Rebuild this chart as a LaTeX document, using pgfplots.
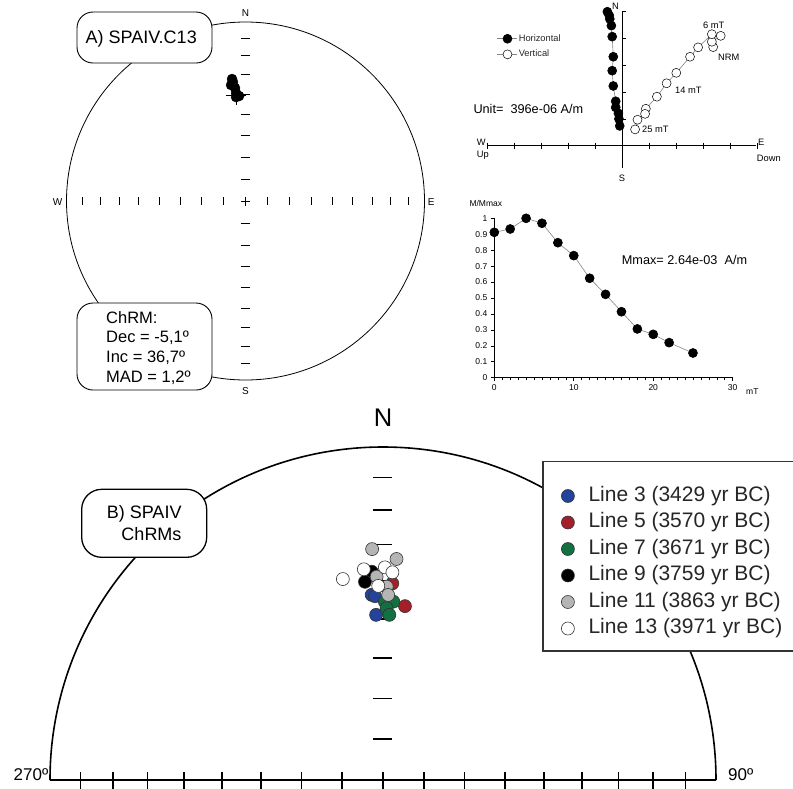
\documentclass[border=0pt]{standalone}
\usepackage{pgfplots}
\pgfplotsset{compat=1.18}
\usepackage{pgfplotstable}
\usepackage{fontspec}
\setmainfont{Liberation Sans}
\newcommand\fs[2]{\fontsize{#1pt}{#2pt}\selectfont}

\definecolor{lblue}{HTML}{24439A}
\definecolor{lred}{HTML}{A3202A}
\definecolor{lgreen}{HTML}{137040}
\definecolor{lgray}{HTML}{B5B5B5}
\definecolor{zline}{HTML}{858585}

% equal-area projection of (dec, inc)
\pgfplotsset{
  table/eqarea/.style={x expr={sqrt(2)*sin((90-\thisrow{inc})/2)*sin(\thisrow{dec})},
                       y expr={sqrt(2)*sin((90-\thisrow{inc})/2)*cos(\thisrow{dec})}},
  chrm/.style={only marks, mark=*, mark size=6.5pt,
               mark options={draw=black!80, line width=0.6pt, fill=#1}},
}

% A) demagnetisation steps of SPAIV.C13
\pgfplotstableread[row sep=\\]{dec inc\\ -6.3 32.0\\ -6.0 33.6\\ -7.1 35.0\\ -5.3 36.7\\ -5.0 39.3\\ -3.5 40.9\\ -5.2 41.3\\}\stepsA
\pgfplotstableread[row sep=\\]{dec inc\\ -5.1 40.3\\}\meanA
% Zijderveld, units of 396e-06 A/m (NRM, 2, 4, ... 22, 25 mT)
\pgfplotstableread[row sep=\\]{x y\\ -0.43 4.73\\ -0.37 4.48\\ -0.52 5.00\\ -0.45 4.86\\ -0.34 4.07\\ -0.30 3.32\\ -0.34 2.80\\ -0.30 2.23\\ -0.21 1.66\\ -0.21 1.43\\ -0.11 1.21\\ -0.09 1.00\\ -0.06 0.74\\}\zhor
\pgfplotstableread[row sep=\\]{x y\\ 3.41 3.68\\ 3.36 3.88\\ 3.69 4.10\\ 3.36 4.16\\ 2.85 3.67\\ 2.55 3.32\\ 2.04 2.72\\ 1.68 2.33\\ 1.32 1.83\\ 0.91 1.38\\ 0.88 1.19\\ 0.60 0.97\\ 0.51 0.61\\}\zver
% normalised intensity
\pgfplotstableread[row sep=\\]{mT M\\ 0 0.912\\ 2 0.933\\ 4 1.000\\ 6 0.969\\ 8 0.847\\ 10 0.766\\ 12 0.624\\ 14 0.523\\ 16 0.414\\ 18 0.306\\ 20 0.272\\ 22 0.220\\ 25 0.155\\}\intens
% B) ChRMs per line
\pgfplotstableread[row sep=\\]{dec inc\\ -3.5 43.6\\ -2.5 44.0\\ -2.4 48.9\\}\lineiii
\pgfplotstableread[row sep=\\]{dec inc\\ 2.7 40.6\\ 7.2 46.3\\}\linev
\pgfplotstableread[row sep=\\]{dec inc\\ 0.6 45.5\\ 3.3 45.4\\ 1.2 47.2\\ 2.2 48.9\\}\linevii
\pgfplotstableread[row sep=\\]{dec inc\\ -3.1 37.4\\ -5.2 40.0\\}\lineix
\pgfplotstableread[row sep=\\]{dec inc\\ -2.7 31.2\\ 3.5 33.9\\ -1.8 38.8\\ 1.1 41.5\\ 1.6 43.7\\}\linexi
\pgfplotstableread[row sep=\\]{dec inc\\ -11.3 38.4\\ -5.2 36.6\\ 0.5 36.3\\ 2.6 37.6\\ -1.4 41.3\\}\linexiii

\begin{document}
\begin{tikzpicture}[x=1pt, y=1pt]
\useasboundingbox (0,0) rectangle (793,-788);

\begin{scope}[yscale=-1]
  % ---- A: stereonet frame
  \draw[line width=0.8pt] (245.5,201) circle[radius=179];
  \foreach \k in {0.1233,0.2455,0.3660,0.4837,0.5977,0.7071,0.8112,0.9091}{
    \draw[line width=0.7pt] (245.5-179*\k,197.3) -- ++(0,7.4);
    \draw[line width=0.7pt] (245.5+179*\k,197.3) -- ++(0,7.4);
    \draw[line width=0.7pt] (240.8,201-179*\k) -- ++(9.4,0);
    \draw[line width=0.7pt] (240.8,201+179*\k) -- ++(9.4,0);
  }
  \draw[line width=0.7pt] (241,201) -- (250,201) (245.5,196.5) -- (245.5,205.5);
  \begin{scope}[every node/.style={font=\fs{10}{12}, inner sep=0}]
    \node[anchor=base] at (245.5,16.7) {N};
    \node[anchor=base] at (245.5,394.3) {S};
    \node[anchor=base] at (57.5,205.7) {W};
    \node[anchor=base] at (431.3,205.7) {E};
  \end{scope}
  \draw[fill=white, rounded corners=16pt, line width=0.9pt] (77,12) rectangle (212,63);
  \node[font=\fs{18}{21}, anchor=base west, inner sep=0] at (85.5,43.3) {A) SPAIV.C13};
  \draw[fill=white, rounded corners=16pt, line width=0.9pt] (77,303) rectangle (212,390);
  \begin{scope}[every node/.style={font=\fs{16.5}{19}, anchor=base west, inner sep=0}]
    \node at (106,323.3) {ChRM:};
    \node at (106,342.3) {Dec = -5,1º};
    \node at (106,362.7) {Inc = 36,7º};
    \node at (106,382.7) {MAD = 1,2º};
  \end{scope}

  % ---- Zijderveld frame
  \draw[line width=0.7pt] (486.7,145.7) -- (756,145.7);
  \draw[line width=0.7pt] (622.3,11.7) -- (622.3,168);
  \foreach \i in {-5,...,5} \draw[line width=0.7pt] (622.3+26.93*\i,142.7) -- ++(0,6);
  \foreach \i in {1,...,5} \draw[line width=0.7pt] (622.3,145.7-26.8*\i) -- ++(3.5,0);
  \begin{scope}[every node/.style={font=\fs{9.3}{11}, inner sep=0}]
    \node[anchor=base] at (615.5,9.3) {N};
    \node[anchor=base] at (622,181.7) {S};
    \node[anchor=base west] at (476.7,145) {W};
    \node[anchor=base west] at (476.7,157) {Up};
    \node[anchor=base west] at (758,145) {E};
    \node[anchor=base west] at (756.7,161.5) {Down};
    \node[anchor=base west] at (703,28.3) {6 mT};
    \node[anchor=base west] at (718,60.7) {NRM};
    \node[anchor=base west] at (675,93.4) {14 mT};
    \node[anchor=base west] at (642,132.6) {25 mT};
  \end{scope}
  \node[font=\fs{12.7}{15}, anchor=base west, inner sep=0] at (473.3,113.8) {Unit=\ \ 396e-06 A/m};

  % ---- intensity labels
  \node[font=\fs{8.5}{10}, anchor=base west, inner sep=0] at (469.3,206.5) {M/Mmax};
  \node[font=\fs{12.7}{15}, anchor=base west, inner sep=0] at (621.7,264.5) {Mmax= 2.64e-03\ \ A/m};
  \node[font=\fs{8.5}{10}, anchor=base west, inner sep=0] at (746,394.5) {mT};

  % ---- B: equal-area frame (upper half)
  \draw[line width=1.6pt] (50,780) arc[start angle=180, end angle=360, radius=333];
  \draw[line width=1.6pt] (50,780) -- (716,780);
  \foreach \k in {0.1233,0.2455,0.3660,0.4837,0.5977,0.7071,0.8112,0.9091}{
    \draw[line width=1.3pt] (383-333*\k,772) -- ++(0,20);
    \draw[line width=1.3pt] (383+333*\k,772) -- ++(0,20);
    \draw[line width=1.3pt] (373,780-333*\k) -- ++(19,0);
  }
  \draw[line width=1.3pt] (383,772) -- ++(0,20);
  \node[font=\fs{25.5}{30}, anchor=base, inner sep=0] at (383,426.7) {N};
  \node[font=\fs{17}{20}, anchor=base east, inner sep=0] at (48.5,780) {270º};
  \node[font=\fs{17}{20}, anchor=base west, inner sep=0] at (728,780) {90º};
  \draw[fill=white, line width=1.3pt, rounded corners=20pt] (81.7,489.3) rectangle (206.7,557.3);
  \node[font=\fs{18}{21}, anchor=base east, inner sep=0] at (181.7,518.3) {B) SPAIV};
  \node[font=\fs{18}{21}, anchor=base east, inner sep=0] at (181.7,540) {ChRMs};
  \draw[line width=1.5pt, draw=black!80, fill=white] (543,461.5) rectangle (800,651);
\end{scope}

% ---- A: data
\begin{axis}[scale only axis, width=358pt, height=358pt,
  at={(245.5pt,-201pt)}, anchor=center,
  xmin=-1, xmax=1, ymin=-1, ymax=1, hide axis, clip=false]
  \addplot[only marks, mark=+, mark size=10pt, mark options={line width=0.8pt}]
    table[eqarea] {\meanA};
  \addplot[only marks, mark=*, mark size=5pt, mark options={fill=black}]
    table[eqarea] {\stepsA};
\end{axis}

% ---- Zijderveld
\begin{axis}[scale only axis, width=269.3pt, height=156.3pt,
  at={(486.7pt,-168pt)}, anchor=south west,
  xmin=-5, xmax=5, ymin=-0.83, ymax=5, hide axis, clip=false,
  legend style={at={(0.0382,0.857)}, anchor=north west, draw=none, fill=none,
    inner sep=0pt, row sep=6.6pt, font=\fs{9.3}{11},
    nodes={inner sep=0pt, text height=7pt, text depth=2pt, text=black!85}},
  legend cell align=left,
  legend image code/.code={
    \path[draw=none] (0pt,0pt) -- (21.3pt,0pt);
    \draw[mark repeat=2, mark phase=2, #1] plot coordinates {(0pt,0pt) (10pt,0pt) (20pt,0pt)};}]
  \addplot[zline, line width=0.6pt, mark=*, mark size=4.5pt,
    mark options={draw=black, fill=black}] table {\zhor};
  \addlegendentry{Horizontal}
  \addplot[zline, line width=0.6pt, mark=*, mark size=4.5pt,
    mark options={draw=black, fill=white, line width=0.5pt}] table {\zver};
  \addlegendentry{Vertical}
\end{axis}

% ---- intensity decay
\begin{axis}[scale only axis, width=238.4pt, height=159.4pt,
  at={(494.3pt,-377.7pt)}, anchor=south west,
  xmin=0, xmax=30, ymin=0, ymax=1,
  axis lines=left, axis line style={-, line width=0.8pt},
  xtick={0,10,20,30}, ytick={0,0.1,0.2,0.3,0.4,0.5,0.6,0.7,0.8,0.9,1},
  minor x tick num=9,
  tick align=outside, major tick length=3.5pt, minor tick length=2pt,
  tick style={black, line width=0.6pt},
  ticklabel style={font=\fs{8.5}{10}},
  /pgf/number format/assume math mode=true,
  clip=false]
  \addplot[zline, line width=0.6pt, mark=*, mark size=4.5pt,
    mark options={draw=black, fill=black}] table {\intens};
\end{axis}

% ---- B: ChRMs
\begin{axis}[scale only axis, width=666pt, height=333pt,
  at={(50pt,-780pt)}, anchor=south west,
  xmin=-1, xmax=1, ymin=0, ymax=1, hide axis, clip=false,
  legend style={at={(0.7676,0.8835)}, anchor=north west, draw=none, fill=none,
    inner sep=0pt, row sep=6.5pt, font=\fs{21}{25},
    nodes={inner sep=0pt, text height=15pt, text depth=5pt, text=black!85}},
  legend cell align=left,
  legend image code/.code={
    \path[draw=none] (-6.5pt,0pt) -- (20.6pt,0pt);
    \draw[#1] plot coordinates {(0pt,0pt)};}]
  \addplot[chrm=lblue] table[eqarea] {\lineiii};
  \addlegendentry{Line 3 (3429 yr BC)}
  \addplot[chrm=lred] table[eqarea] {\linev};
  \addlegendentry{Line 5 (3570 yr BC)}
  \addplot[chrm=lgreen] table[eqarea] {\linevii};
  \addlegendentry{Line 7 (3671 yr BC)}
  \addplot[chrm=black] table[eqarea] {\lineix};
  \addlegendentry{Line 9 (3759 yr BC)}
  \addplot[chrm=lgray] table[eqarea] {\linexi};
  \addlegendentry{Line 11 (3863 yr BC)}
  \addplot[chrm=white] table[eqarea] {\linexiii};
  \addlegendentry{Line 13 (3971 yr BC)}
\end{axis}
\end{tikzpicture}
\end{document}
